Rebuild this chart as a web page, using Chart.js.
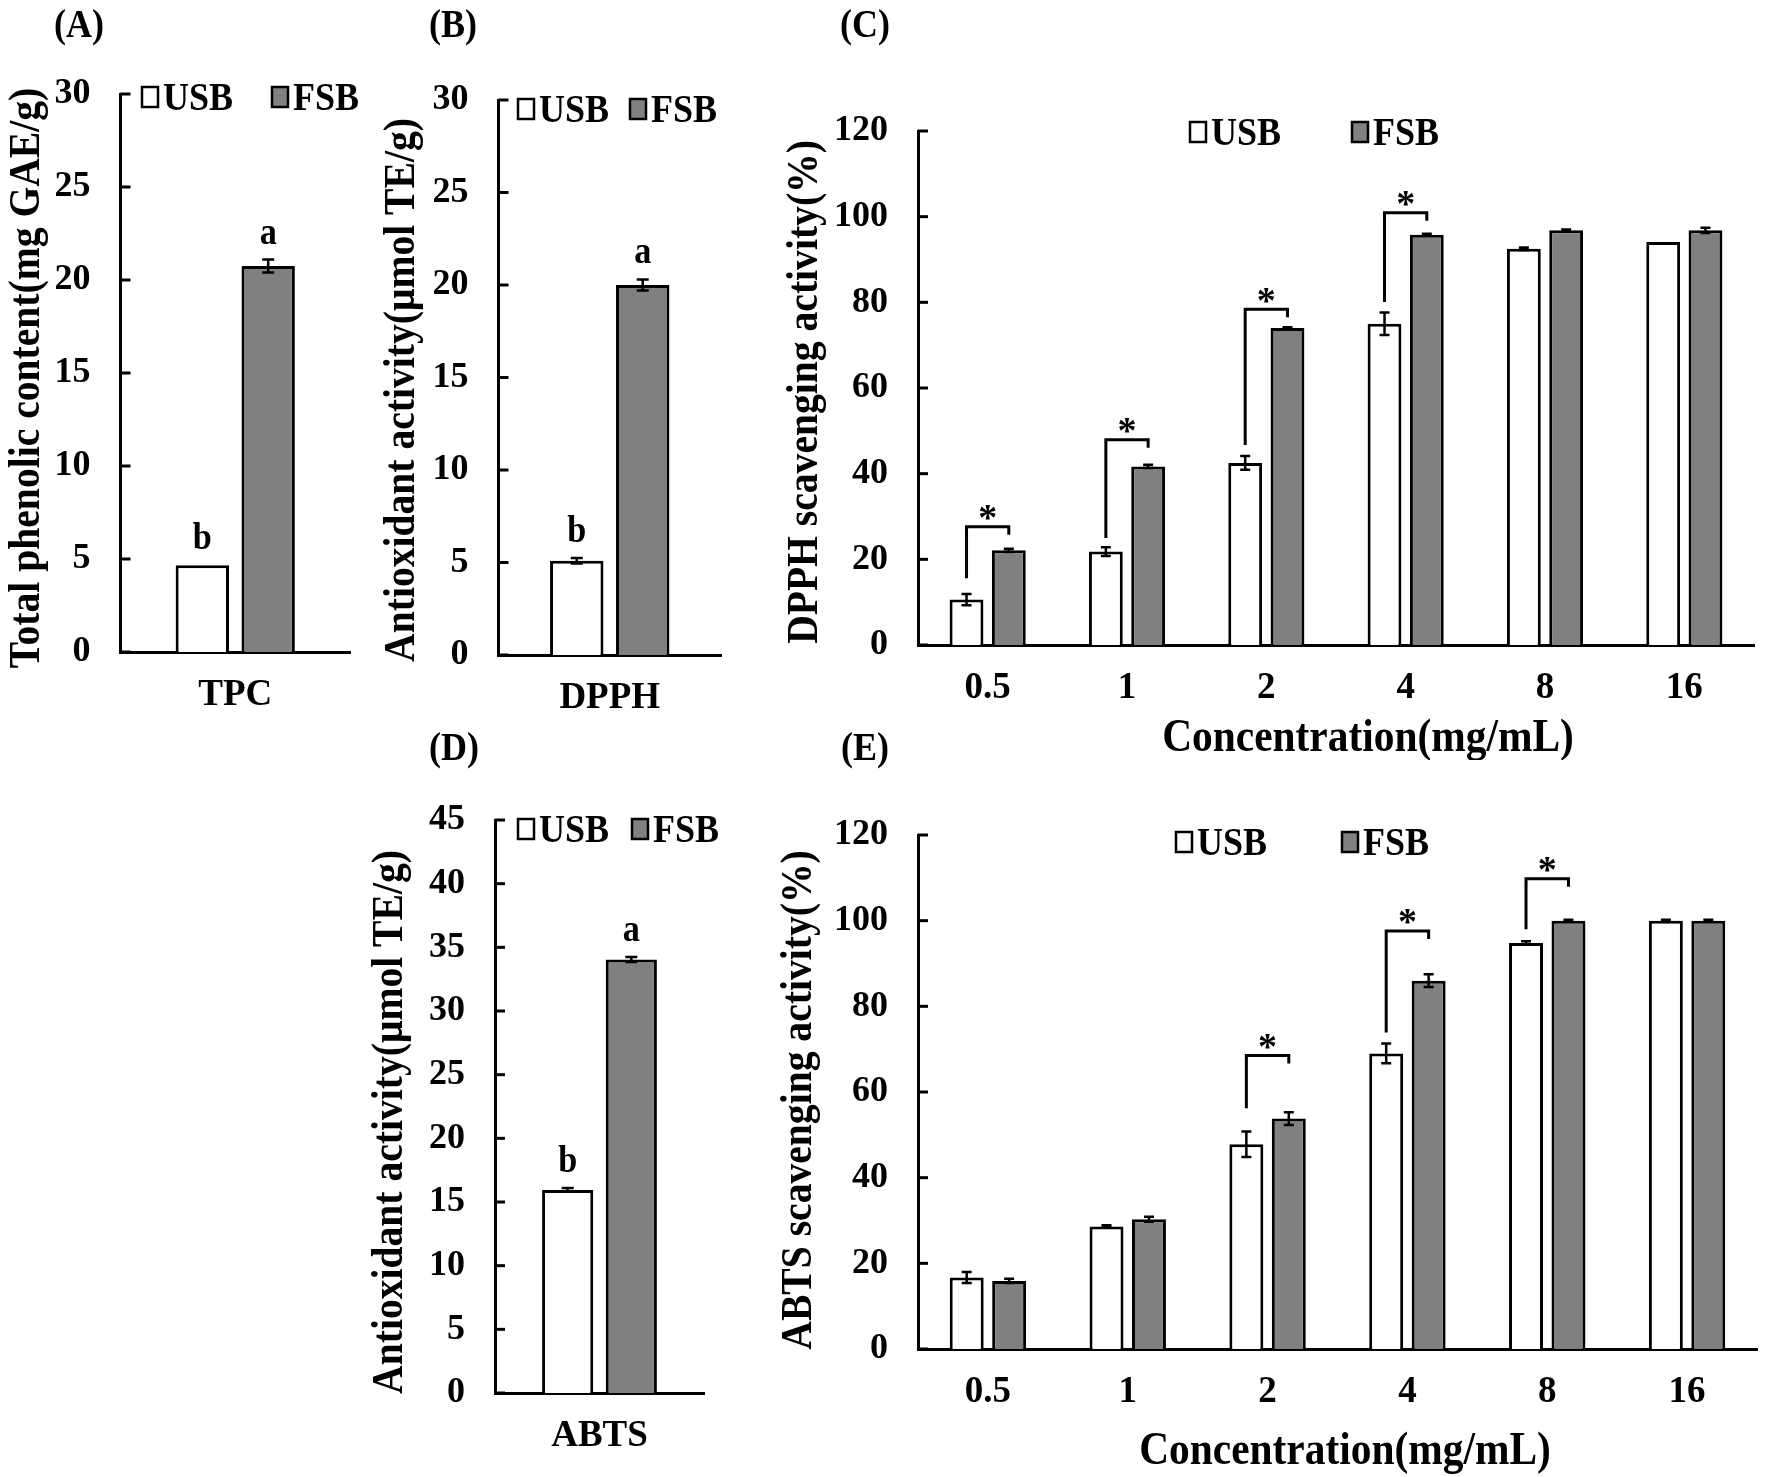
<!DOCTYPE html>
<html>
<head>
<meta charset="utf-8">
<script src="https://cdn.jsdelivr.net/npm/chart.js@4.4.0/dist/chart.umd.min.js"></script>
<style>
  html, body { margin: 0; padding: 0; background: #fff; }
  #page { position: relative; width: 1772px; height: 1477px; background: #fff; overflow: hidden; }
  canvas { position: absolute; }
</style>
</head>
<body>
<div id="page">
  <canvas id="cA"></canvas>
  <canvas id="cB"></canvas>
  <canvas id="cC"></canvas>
  <canvas id="cD"></canvas>
  <canvas id="cE"></canvas>
</div>
<script>
// ---- data ----
const seriesNames = ['USB', 'FSB'];

const tpcLabels = ['TPC'];
const tpcUSB = [4.66];
const tpcUSBErr = [0];
const tpcFSB = [20.75];
const tpcFSBErr = [0.35];
const tpcUSBLetters = ['b'];
const tpcFSBLetters = ['a'];

const dpphLabels = ['DPPH'];
const dpphUSB = [5.1];
const dpphUSBErr = [0.15];
const dpphFSB = [20.0];
const dpphFSBErr = [0.3];
const dpphUSBLetters = ['b'];
const dpphFSBLetters = ['a'];

const abtsLabels = ['ABTS'];
const abtsUSB = [15.95];
const abtsUSBErr = [0.15];
const abtsFSB = [34.05];
const abtsFSBErr = [0.2];
const abtsUSBLetters = ['b'];
const abtsFSBLetters = ['a'];

const concLabels = ['0.5', '1', '2', '4', '8', '16'];

const dpphPctUSB = [10.6, 21.8, 42.5, 75.0, 92.5, 94.1];
const dpphPctUSBErr = [1.3, 1.0, 1.6, 2.6, 0.3, 0];
const dpphPctFSB = [22.1, 41.7, 74.0, 95.8, 96.8, 96.8];
const dpphPctFSBErr = [0.4, 0.4, 0.2, 0.2, 0.2, 0.6];
const dpphSigTop = [27.6, 47.9, 78.4, 100.9, null, null];
const dpphSigLow = [15.6, 25.0, 46.7, 80.1, null, null];

const abtsPctUSB = [16.7, 28.6, 47.8, 69.0, 94.8, 100];
const abtsPctUSBErr = [1.3, 0.3, 3.0, 2.3, 0.4, 0.2];
const abtsPctFSB = [15.9, 30.3, 53.8, 86.0, 100, 100];
const abtsPctFSBErr = [0.5, 0.6, 1.5, 1.5, 0.2, 0.2];
const abtsSigTop = [null, null, 68.5, 97.6, 109.8, null];
const abtsSigLow = [null, null, 56.2, 73.9, 98.0, null];

const ticks30 = [0, 5, 10, 15, 20, 25, 30];
const ticks45 = [0, 5, 10, 15, 20, 25, 30, 35, 40, 45];
const ticks120 = [0, 20, 40, 60, 80, 100, 120];

// ---- drawing helpers ----
const FONT = '"Liberation Serif", "Times New Roman", serif';
const font = size => 'bold ' + size + 'px ' + FONT;
const SQUEEZE = 0.9; // the source lettering is a little condensed
Chart.defaults.font.family = FONT;
Chart.defaults.font.weight = 'bold';
Chart.defaults.color = '#000';

function centerText(ctx, text, x, y) {
  const m = ctx.measureText(text);
  ctx.fillText(text, x, y + (m.actualBoundingBoxAscent - m.actualBoundingBoxDescent) / 2);
}

const panelCfg = {};

const inwardTicks = {
  id: 'inwardTicks',
  afterDraw(chart) {
    const ctx = chart.ctx, y = chart.scales.y, left = chart.chartArea.left;
    ctx.save();
    ctx.strokeStyle = '#000';
    ctx.lineWidth = 3;
    y.ticks.forEach(t => {
      const py = y.getPixelForValue(t.value);
      ctx.beginPath();
      ctx.moveTo(left, py);
      ctx.lineTo(left + 10, py);
      ctx.stroke();
    });
    ctx.restore();
  }
};

const errorBars = {
  id: 'errorBars',
  afterDatasetsDraw(chart) {
    const ctx = chart.ctx, y = chart.scales.y;
    const cap = panelCfg[chart.canvas.id].cap;
    ctx.save();
    ctx.strokeStyle = '#000';
    ctx.lineWidth = 2.5;
    chart.data.datasets.forEach((ds, i) => {
      chart.getDatasetMeta(i).data.forEach((bar, j) => {
        const e = ds.errors[j];
        if (!e) return;
        const top = y.getPixelForValue(ds.data[j] + e);
        const bot = y.getPixelForValue(ds.data[j] - e);
        ctx.beginPath();
        ctx.moveTo(bar.x, top); ctx.lineTo(bar.x, bot);
        ctx.moveTo(bar.x - cap, top); ctx.lineTo(bar.x + cap, top);
        ctx.moveTo(bar.x - cap, bot); ctx.lineTo(bar.x + cap, bot);
        ctx.stroke();
      });
    });
    ctx.restore();
  }
};

const letterMarks = {
  id: 'letterMarks',
  afterDatasetsDraw(chart) {
    const ctx = chart.ctx, y = chart.scales.y;
    ctx.save();
    ctx.font = font(38);
    ctx.textAlign = 'center';
    ctx.textBaseline = 'alphabetic';
    ctx.fillStyle = '#000';
    chart.data.datasets.forEach((ds, i) => {
      if (!ds.letters) return;
      chart.getDatasetMeta(i).data.forEach((bar, j) => {
        const top = y.getPixelForValue(ds.data[j] + ds.errors[j]);
        ctx.save();
        ctx.translate(bar.x, top - 16);
        ctx.scale(SQUEEZE, 1);
        ctx.fillText(ds.letters[j], 0, 0);
        ctx.restore();
      });
    });
    ctx.restore();
  }
};

const sigBrackets = {
  id: 'sigBrackets',
  afterDatasetsDraw(chart) {
    const ds = chart.data.datasets[1];
    if (!ds.sigTop) return;
    const ctx = chart.ctx, y = chart.scales.y;
    const m0 = chart.getDatasetMeta(0), m1 = chart.getDatasetMeta(1);
    ctx.save();
    ctx.strokeStyle = '#000';
    ctx.fillStyle = '#000';
    ctx.lineWidth = 3;
    ctx.font = font(38);
    ctx.textAlign = 'center';
    ds.sigTop.forEach((tv, j) => {
      if (tv == null) return;
      const x0 = m0.data[j].x, x1 = m1.data[j].x;
      const yt = y.getPixelForValue(tv), yl = y.getPixelForValue(ds.sigLow[j]);
      ctx.beginPath();
      ctx.moveTo(x0, yl);
      ctx.lineTo(x0, yt);
      ctx.lineTo(x1, yt);
      ctx.lineTo(x1, yt + 8);
      ctx.stroke();
      centerText(ctx, '*', (x0 + x1) / 2, yt - 14);
    });
    ctx.restore();
  }
};

const boxLegend = {
  id: 'boxLegend',
  afterDraw(chart) {
    const p = panelCfg[chart.canvas.id];
    const ctx = chart.ctx;
    chart.data.datasets.forEach((ds, i) => {
      const bx = p.legend.x[i] - p.canvas[0];
      const cy = p.legend.y - p.canvas[1];
      ctx.save();
      ctx.fillStyle = ds.backgroundColor;
      ctx.fillRect(bx, cy - 10, 16, 20);
      ctx.strokeStyle = '#000';
      ctx.lineWidth = 2.5;
      ctx.strokeRect(bx, cy - 10, 16, 20);
      ctx.font = font(40);
      ctx.textAlign = 'left';
      ctx.fillStyle = '#000';
      ctx.translate(bx + 21, cy);
      ctx.scale(SQUEEZE, 1);
      centerText(ctx, ds.label, 0, 0);
      ctx.restore();
    });
  }
};

const pageText = {
  id: 'pageText',
  afterDraw(chart) {
    const p = panelCfg[chart.canvas.id];
    const ctx = chart.ctx;
    p.texts.forEach(t => {
      ctx.save();
      ctx.font = font(t.size);
      ctx.fillStyle = '#000';
      ctx.textAlign = 'center';
      ctx.translate(t.x - p.canvas[0], t.y - p.canvas[1]);
      if (t.rot) ctx.rotate(-Math.PI / 2);
      ctx.scale(SQUEEZE, 1);
      centerText(ctx, t.text, 0, 0);
      ctx.restore();
    });
  }
};

function makeDatasets(usb, usbErr, fsb, fsbErr, cat, bar) {
  return [
    { label: seriesNames[0], data: usb, errors: usbErr, backgroundColor: '#ffffff',
      borderColor: '#000000', borderWidth: 3, categoryPercentage: cat, barPercentage: bar },
    { label: seriesNames[1], data: fsb, errors: fsbErr, backgroundColor: '#808080',
      borderColor: '#000000', borderWidth: 3, categoryPercentage: cat, barPercentage: bar }
  ];
}

function panel(p) {
  panelCfg[p.id] = p;
  const cv = document.getElementById(p.id);
  const [L, T, W, H] = p.canvas;
  cv.width = W; cv.height = H;
  cv.style.left = L + 'px'; cv.style.top = T + 'px';
  const a = p.area;
  return new Chart(cv, {
    type: 'bar',
    data: { labels: p.labels, datasets: p.datasets },
    options: {
      responsive: false,
      animation: false,
      devicePixelRatio: 1,
      events: [],
      layout: { padding: { left: 0, top: a.t - T, right: L + W - a.r, bottom: 0 } },
      plugins: { legend: { display: false }, tooltip: { enabled: false } },
      scales: {
        x: {
          z: 1,
          grid: { display: false, drawTicks: false },
          border: { color: '#000', width: 3 },
          ticks: { font: { size: 37, weight: 'bold' }, color: '#000', padding: 21, maxRotation: 0 },
          afterFit: s => { s.height = T + H - a.b; }
        },
        y: {
          z: 1,
          min: p.yTicks[0],
          max: p.yTicks[p.yTicks.length - 1],
          grid: { display: false, drawTicks: false },
          border: { color: '#000', width: 3 },
          ticks: { font: { size: 36, weight: 'bold' }, color: '#000', padding: 30 },
          afterBuildTicks: s => { s.ticks = p.yTicks.map(v => ({ value: v })); },
          afterFit: s => { s.width = a.l - L; }
        }
      }
    },
    plugins: [inwardTicks, errorBars, letterMarks, sigBrackets, boxLegend, pageText]
  });
}

// (A) total phenolic content
const dsA = makeDatasets(tpcUSB, tpcUSBErr, tpcFSB, tpcFSBErr, 0.574, 0.81);
dsA[0].letters = tpcUSBLetters; dsA[1].letters = tpcFSBLetters;
panel({
  id: 'cA', canvas: [0, 0, 420, 730], area: { l: 120.5, r: 350, t: 94, b: 652 },
  labels: tpcLabels, datasets: dsA, yTicks: ticks30, cap: 6,
  legend: { x: [142, 272], y: 97 },
  texts: [
    { text: '(A)', x: 79, y: 27, size: 40 },
    { text: 'Total phenolic content(mg GAE/g)', x: 28, y: 378, size: 44, rot: true }
  ]
});

// (B) DPPH antioxidant activity
const dsB = makeDatasets(dpphUSB, dpphUSBErr, dpphFSB, dpphFSBErr, 0.593, 0.81);
dsB[0].letters = dpphUSBLetters; dsB[1].letters = dpphFSBLetters;
panel({
  id: 'cB', canvas: [380, 0, 420, 730], area: { l: 498.5, r: 721, t: 100, b: 655 },
  labels: dpphLabels, datasets: dsB, yTicks: ticks30, cap: 6,
  legend: { x: [518, 630], y: 109 },
  texts: [
    { text: '(B)', x: 453, y: 27, size: 40 },
    { text: 'Antioxidant activity(\u03bcmol TE/g)', x: 403, y: 390, size: 44, rot: true }
  ]
});

// (C) DPPH scavenging vs concentration
const dsC = makeDatasets(dpphPctUSB, dpphPctUSBErr, dpphPctFSB, dpphPctFSBErr, 0.607, 0.8);
dsC[1].sigTop = dpphSigTop; dsC[1].sigLow = dpphSigLow;
panel({
  id: 'cC', canvas: [770, 0, 1002, 760], area: { l: 918, r: 1754, t: 131, b: 645 },
  labels: concLabels, datasets: dsC, yTicks: ticks120, cap: 5,
  legend: { x: [1190, 1352], y: 132 },
  texts: [
    { text: '(C)', x: 865, y: 27, size: 40 },
    { text: 'DPPH scavenging activity(%)', x: 806, y: 392, size: 44, rot: true },
    { text: 'Concentration(mg/mL)', x: 1368, y: 739, size: 46 }
  ]
});

// (D) ABTS antioxidant activity
const dsD = makeDatasets(abtsUSB, abtsUSBErr, abtsFSB, abtsFSBErr, 0.609, 0.804);
dsD[0].letters = abtsUSBLetters; dsD[1].letters = abtsFSBLetters;
panel({
  id: 'cD', canvas: [360, 730, 430, 747], area: { l: 495, r: 704, t: 820, b: 1393 },
  labels: abtsLabels, datasets: dsD, yTicks: ticks45, cap: 6,
  legend: { x: [518, 632], y: 829 },
  texts: [
    { text: '(D)', x: 454, y: 750, size: 40 },
    { text: 'Antioxidant activity(\u03bcmol TE/g)', x: 391, y: 1122, size: 44, rot: true }
  ]
});

// (E) ABTS scavenging vs concentration
const dsE = makeDatasets(abtsPctUSB, abtsPctUSBErr, abtsPctFSB, abtsPctFSBErr, 0.607, 0.8);
dsE[1].sigTop = abtsSigTop; dsE[1].sigLow = abtsSigLow;
panel({
  id: 'cE', canvas: [770, 730, 1002, 747], area: { l: 918, r: 1757, t: 835, b: 1349 },
  labels: concLabels, datasets: dsE, yTicks: ticks120, cap: 5,
  legend: { x: [1176, 1342], y: 842 },
  texts: [
    { text: '(E)', x: 865, y: 750, size: 40 },
    { text: 'ABTS scavenging activity(%)', x: 800, y: 1100, size: 44, rot: true },
    { text: 'Concentration(mg/mL)', x: 1345, y: 1452, size: 46 }
  ]
});
</script>
</body>
</html>
